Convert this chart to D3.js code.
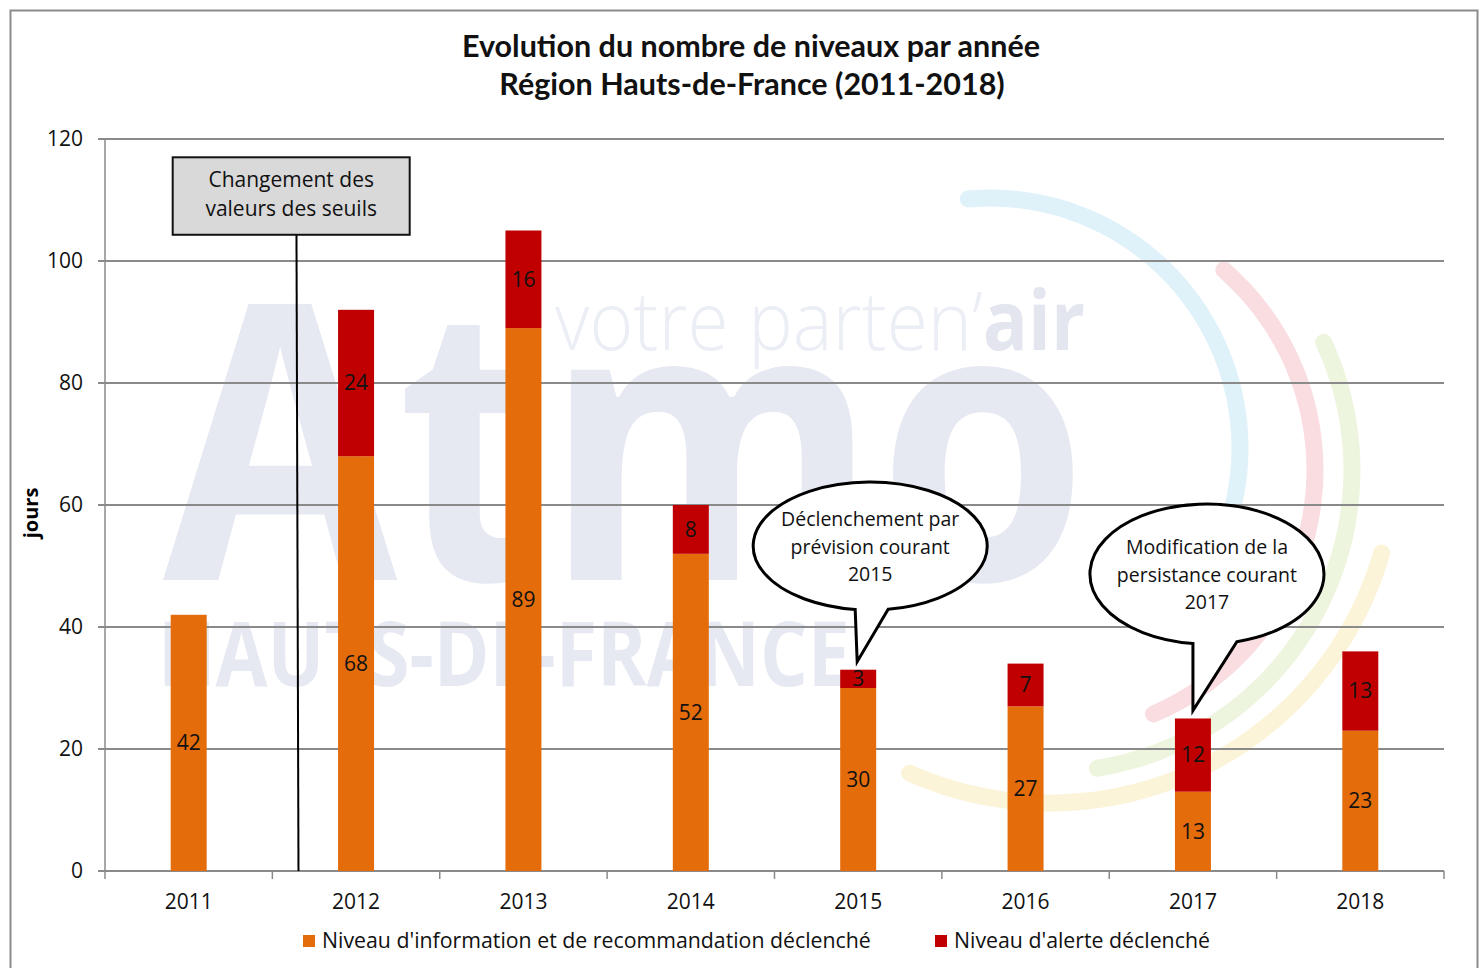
<!DOCTYPE html>
<html>
<head>
<meta charset="utf-8">
<script src="https://cdn.jsdelivr.net/npm/d3@7"></script>
<style>
  body { margin: 0; background: #fff; }
  svg { display: block; font-family: "Open Sans", sans-serif; }
</style>
</head>
<body>
<div id="chart"></div>
<script>
// data
const years = ["2011", "2012", "2013", "2014", "2015", "2016", "2017", "2018"];
const niveauInfo = [42, 68, 89, 52, 30, 27, 13, 23];
const niveauAlerte = [0, 24, 16, 8, 3, 7, 12, 13];
const yTicks = [0, 20, 40, 60, 80, 100, 120];
const seriesNames = ["Niveau d'information et de recommandation déclenché", "Niveau d'alerte déclenché"];
const seriesColors = ["#E46C0A", "#C00000"];

const width = 1480, height = 968;
const margin = { top: 139, right: 36, bottom: 97, left: 105 };

const svg = d3.select("#chart").append("svg")
  .attr("width", width)
  .attr("height", height);

// outer frame
svg.append("rect")
  .attr("x", 10.5).attr("y", 10.5)
  .attr("width", width - 13).attr("height", height)
  .attr("fill", "none").attr("stroke", "#8c8c8c").attr("stroke-width", 2);

const x = d3.scaleBand().domain(years)
  .range([margin.left, width - margin.right]).padding(0);
const y = d3.scaleLinear().domain([0, 120])
  .range([height - margin.bottom, margin.top]);
const barW = x.bandwidth() * 0.215;

// watermark (logo behind the plot)
const wm = svg.append("g").attr("class", "watermark");
const arcs = [
  { cx: 990, cy: 448, r: 250, a0: -5, a1: 117, c: "#dff1f9" },
  { cx: 1050, cy: 470, r: 265, a0: 41, a1: 158, c: "#fadde1" },
  { cx: 1050, cy: 470, r: 302, a0: 65, a1: 172, c: "#eef5de" },
  { cx: 1050, cy: 458, r: 345, a0: 106, a1: 204, c: "#fbf4d9" }
];
arcs.forEach(a => {
  const line = d3.lineRadial().curve(d3.curveBasis)
    .angle(d => d * Math.PI / 180).radius(a.r);
  wm.append("path")
    .attr("transform", `translate(${a.cx},${a.cy})`)
    .attr("d", line(d3.range(a.a0, a.a1 + 1, 2)))
    .attr("fill", "none").attr("stroke", a.c)
    .attr("stroke-width", 17).attr("stroke-linecap", "round");
});
wm.append("text")
  .attr("x", 163).attr("y", 580)
  .attr("font-weight", 700)
  .attr("font-size", 385).attr("fill", "#e7e9f2")
  .attr("textLength", 925).attr("lengthAdjust", "spacingAndGlyphs")
  .text("Atmo");
wm.append("text")
  .attr("x", 158).attr("y", 686)
  .attr("font-weight", 700)
  .attr("font-size", 90).attr("fill", "#e7e9f2")
  .attr("textLength", 692).attr("lengthAdjust", "spacingAndGlyphs")
  .text("HAUTS-DE-FRANCE");
const tag = wm.append("text")
  .attr("x", 555).attr("y", 350)
  .attr("font-size", 82).attr("fill", "#eceef5")
  .attr("textLength", 530).attr("lengthAdjust", "spacingAndGlyphs");
tag.append("tspan").attr("font-weight", 300).text("votre parten’");
tag.append("tspan").attr("font-weight", 700).attr("fill", "#e4e6ef").text("air");

// gridlines + y axis labels
svg.append("g")
  .selectAll("line")
  .data(yTicks.filter(d => d > 0))
  .join("line")
  .attr("x1", margin.left - 7).attr("x2", width - margin.right)
  .attr("y1", d => y(d)).attr("y2", d => y(d))
  .attr("stroke", "#8a8a8a").attr("stroke-width", 2);

svg.append("line")
  .attr("x1", margin.left).attr("x2", margin.left)
  .attr("y1", y(120)).attr("y2", y(0))
  .attr("stroke", "#8a8a8a").attr("stroke-width", 1.5);

svg.append("g")
  .attr("font-size", 21).attr("fill", "#111")
  .selectAll("text")
  .data(yTicks)
  .join("text")
  .attr("x", margin.left - 22)
  .attr("y", d => y(d))
  .attr("dy", "0.35em")
  .attr("text-anchor", "end")
  .text(d => d);

// y title
svg.append("text")
  .attr("transform", `translate(38,${(y(0) + y(120)) / 2 + 8}) rotate(-90)`)
  .attr("text-anchor", "middle")
  .attr("font-size", 20).attr("font-weight", 700)
  .text("jours");

// x axis
const xAxis = d3.axisBottom(x).tickSize(0).tickPadding(23);
const gx = svg.append("g")
  .attr("transform", `translate(0,${y(0)})`)
  .call(xAxis);
gx.select(".domain").attr("stroke", "#8a8a8a").attr("stroke-width", 2)
  .attr("d", `M${margin.left - 7},0H${width - margin.right}`);
gx.selectAll(".tick text").attr("font-size", 21).attr("fill", "#111")
  .attr("font-family", "'Open Sans', sans-serif");
svg.append("g")
  .selectAll("line")
  .data(years.map(d => x(d)).concat([x.range()[1]]))
  .join("line")
  .attr("x1", d => d).attr("x2", d => d)
  .attr("y1", y(0)).attr("y2", y(0) + 8)
  .attr("stroke", "#8a8a8a").attr("stroke-width", 1.5);

// stacked bars
const table = years.map((yr, i) => ({ year: yr, info: niveauInfo[i], alerte: niveauAlerte[i] }));
const stack = d3.stack().keys(["info", "alerte"])(table);

const layer = svg.append("g")
  .selectAll("g")
  .data(stack)
  .join("g")
  .attr("fill", (d, i) => seriesColors[i]);

layer.selectAll("rect")
  .data(d => d)
  .join("rect")
  .attr("x", d => x(d.data.year) + x.bandwidth() / 2 - barW / 2)
  .attr("y", d => y(d[1]))
  .attr("width", barW)
  .attr("height", d => y(d[0]) - y(d[1]));

layer.selectAll("text")
  .data(d => d.filter(s => s[1] - s[0] > 0))
  .join("text")
  .attr("x", d => x(d.data.year) + x.bandwidth() / 2)
  .attr("y", d => y((d[0] + d[1]) / 2))
  .attr("dy", "0.35em")
  .attr("text-anchor", "middle")
  .attr("font-size", 21)
  .attr("fill", "#111")
  .text(d => d[1] - d[0]);

// annotation: threshold change
const cx2011 = x("2011") + x.bandwidth() / 2;
const lineX = cx2011 + x.bandwidth() * 0.65;
svg.append("line")
  .attr("x1", lineX - 1).attr("y1", y(104.3))
  .attr("x2", lineX + 1).attr("y2", y(0))
  .attr("stroke", "#000").attr("stroke-width", 2);
svg.append("rect")
  .attr("x", cx2011 - 16).attr("y", y(117))
  .attr("width", 237).attr("height", y(104.3) - y(117))
  .attr("fill", "#d9d9d9").attr("stroke", "#111").attr("stroke-width", 2);
svg.append("text")
  .attr("x", cx2011 - 16 + 118.5).attr("y", y(117))
  .attr("text-anchor", "middle").attr("font-size", 21).attr("fill", "#111")
  .selectAll("tspan")
  .data(["Changement des", "valeurs des seuils"])
  .join("tspan")
  .attr("x", cx2011 - 16 + 118.5)
  .attr("dy", (d, i) => i === 0 ? 30 : 29)
  .text(d => d);

// speech bubbles
function bubble(ecx, ecy, rx, ry, b1, b2, tipX, tipY, lines) {
  const pt = dx => [ecx + dx, ecy + ry * Math.sqrt(1 - (dx / rx) ** 2)];
  const [ax, ay] = pt(b2);
  const [bx, by] = pt(b1);
  svg.append("path")
    .attr("d", `M${ax},${ay} A${rx},${ry} 0 1 0 ${bx},${by} L${tipX},${tipY} Z`)
    .attr("fill", "#fff").attr("stroke", "#000").attr("stroke-width", 3)
    .attr("stroke-linejoin", "miter");
  svg.append("text")
    .attr("text-anchor", "middle").attr("font-size", 19.5).attr("fill", "#111")
    .selectAll("tspan")
    .data(lines)
    .join("tspan")
    .attr("x", ecx)
    .attr("y", (d, i) => ecy - 27 + i * 27.5 + 7)
    .text(d => d);
}
const c2015 = x("2015") + x.bandwidth() / 2;
const c2017 = x("2017") + x.bandwidth() / 2;
bubble(c2015 + 12, 546, 117, 64, -15, 18, c2015 - 1, y(33) - 8,
  ["Déclenchement par", "prévision courant", "2015"]);
bubble(c2017 + 14, 574, 117, 70, -14, 30, c2017, y(25) - 8,
  ["Modification de la", "persistance courant", "2017"]);

// title
svg.append("text")
  .attr("x", 751).attr("y", 57)
  .attr("text-anchor", "middle").attr("font-size", 30.5).attr("font-weight", 700)
  .attr("font-family", "Lato, sans-serif")
  .attr("fill", "#111")
  .text("Evolution du nombre de niveaux par année");
svg.append("text")
  .attr("x", 752).attr("y", 95)
  .attr("text-anchor", "middle").attr("font-size", 30.5).attr("font-weight", 700)
  .attr("font-family", "Lato, sans-serif")
  .attr("fill", "#111")
  .text("Région Hauts-de-France (2011-2018)");

// legend
const legendX = [303, 935];
const legend = svg.append("g")
  .selectAll("g")
  .data(seriesNames)
  .join("g")
  .attr("transform", (d, i) => `translate(${legendX[i]},941)`);
legend.append("rect")
  .attr("x", 0).attr("y", -6).attr("width", 12).attr("height", 12)
  .attr("fill", (d, i) => seriesColors[i]);
legend.append("text")
  .attr("x", 19).attr("dy", "0.35em")
  .attr("font-size", 21.3).attr("fill", "#111")
  .text(d => d);
</script>
</body>
</html>
